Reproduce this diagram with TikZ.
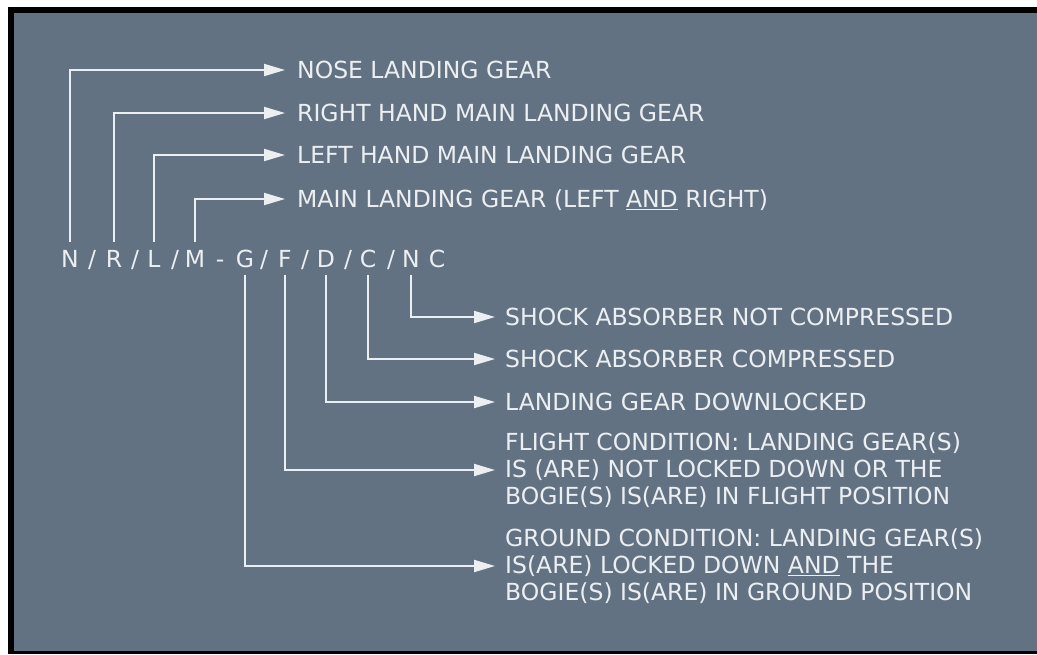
\documentclass[tikz,border=0pt]{standalone}
\usepackage{fontspec}
\setmainfont{DejaVu Sans}
\usetikzlibrary{arrows.meta}
\definecolor{panel}{RGB}{99,114,130}
\definecolor{ink}{RGB}{236,239,242}
\begin{document}
\begin{tikzpicture}[x=1pt,y=-1pt,
  every node/.style={text=ink,font=\fontsize{23.5}{27}\selectfont},
  code/.style={anchor=base,inner sep=0pt,outer xsep=0pt,outer ysep=8pt,text height=17pt,text depth=0pt},
  toplabel/.style={anchor=west,inner xsep=12pt,inner ysep=0pt,text height=17pt,text depth=0pt},
  botlabel/.style={anchor=west,inner xsep=10pt,inner ysep=0pt,text height=17pt,text depth=0pt},
  multilabel/.style={anchor=west,inner xsep=10pt,inner ysep=0pt,align=left},
  conn/.style={draw=ink,line width=2pt,-{Triangle[length=21pt,width=12pt]}}]
\useasboundingbox (0,0) rectangle (1037,654);
\fill[white] (0,0) rectangle (1037,654);
\fill[black] (8,7) rectangle (1037,654);
\fill[panel] (14,13) rectangle (1037,651);
% code row
\node[code] (cN) at (70,267) {N};
\node[code] (s1) at (92,267) {/};
\node[code] (cR) at (114,267) {R};
\node[code] (s2) at (135,267) {/};
\node[code] (cL) at (154,267) {L};
\node[code] (s3) at (175,267) {/};
\node[code] (cM) at (195,267) {M};
\node[code] (s4) at (220,267) {-};
\node[code] (cG) at (245,267) {G};
\node[code] (s5) at (264,267) {/};
\node[code] (cF) at (285,267) {F};
\node[code] (s6) at (305,267) {/};
\node[code] (cD) at (326,267) {D};
\node[code] (s7) at (348,267) {/};
\node[code] (cC) at (368,267) {C};
\node[code] (s8) at (391,267) {/};
\node[code] (cNN) at (411,267) {N};
\node[code] (cNC) at (437,267) {C};
% top labels
\node[toplabel] (tNose) at (285,70) {NOSE LANDING GEAR};
\node[toplabel] (tRight) at (285,113) {RIGHT HAND MAIN LANDING GEAR};
\node[toplabel] (tLeft) at (285,155) {LEFT HAND MAIN LANDING GEAR};
\node[toplabel] (tMain) at (285,199) {MAIN LANDING GEAR (LEFT \underline{AND} RIGHT)};
% bottom labels
\node[botlabel] (bNC) at (495,317) {SHOCK ABSORBER NOT COMPRESSED};
\node[botlabel] (bC) at (495,359) {SHOCK ABSORBER COMPRESSED};
\node[botlabel] (bD) at (495,402) {LANDING GEAR DOWNLOCKED};
\node[multilabel] (bF) at (495,470) {FLIGHT CONDITION: LANDING GEAR(S)\\IS (ARE) NOT LOCKED DOWN OR THE\\BOGIE(S) IS(ARE) IN FLIGHT POSITION};
\node[multilabel] (bG) at (495,566) {GROUND CONDITION: LANDING GEAR(S)\\IS(ARE) LOCKED DOWN \underline{AND} THE\\BOGIE(S) IS(ARE) IN GROUND POSITION};
% connectors
\draw[conn] (cN.north) |- (tNose.west);
\draw[conn] (cR.north) |- (tRight.west);
\draw[conn] (cL.north) |- (tLeft.west);
\draw[conn] (cM.north) |- (tMain.west);
\draw[conn] (cNN.south) |- (bNC.west);
\draw[conn] (cC.south) |- (bC.west);
\draw[conn] (cD.south) |- (bD.west);
\draw[conn] (cF.south) |- (bF.west);
\draw[conn] (cG.south) |- (bG.west);
\end{tikzpicture}
\end{document}
